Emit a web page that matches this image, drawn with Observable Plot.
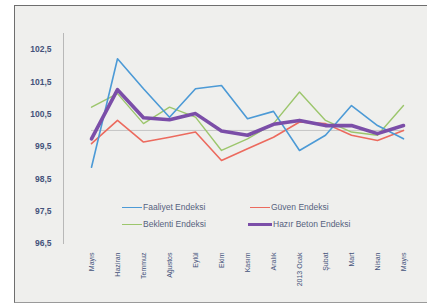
<!DOCTYPE html>
<html>
<head>
<meta charset="utf-8">
<script src="https://cdn.jsdelivr.net/npm/d3@7"></script>
<script src="https://cdn.jsdelivr.net/npm/@observablehq/plot@0.6"></script>
<style>
  html, body { margin: 0; padding: 0; background: #ffffff; }
  #wrap { position: relative; width: 427px; height: 303px; overflow: hidden; }
  #frame { position: absolute; left: 14px; top: 5px; width: 420px; height: 296px;
           border-left: 1.5px solid #6e6e6e; border-top: 1.5px solid #6e6e6e; border-bottom: 1px solid #9a9a9a;
           background: #efefed; }
  #chart { position: absolute; left: 0; top: 0; }
  .leg { position: absolute; font: 8.5px "Liberation Sans", Arial, sans-serif; color: #56627e; white-space: nowrap; line-height: 10px; }
  .leg span.sw { display: inline-block; vertical-align: middle; width: 20px; margin-right: 1px; }
</style>
</head>
<body>
<div id="wrap">
  <div id="frame"></div>
  <div id="chart"></div>
</div>
<script>
const months = ["Mayıs","Haziran","Temmuz","Ağustos","Eylül","Ekim","Kasım","Aralık","2013 Ocak","Şubat","Mart","Nisan","Mayıs"];
const yTicks = [96.5, 97.5, 98.5, 99.5, 100.5, 101.5, 102.5];
const seriesNames = ["Faaliyet Endeksi", "Güven Endeksi", "Beklenti Endeksi", "Hazır Beton Endeksi"];
const faaliyet = [98.86, 102.22, 101.29, 100.41, 101.29, 101.39, 100.36, 100.59, 99.38, 99.85, 100.77, 100.15, 99.74];
const guven    = [99.59, 100.31, 99.64, 99.79, 99.95, 99.07, 99.43, 99.79, 100.26, 100.21, 99.85, 99.69, 100.0];
const beklenti = [100.72, 101.14, 100.21, 100.72, 100.41, 99.38, 99.74, 100.21, 101.19, 100.31, 99.95, 99.85, 100.77];
const hazir    = [99.74, 101.26, 100.39, 100.33, 100.52, 99.98, 99.85, 100.19, 100.31, 100.15, 100.15, 99.9, 100.15];
const colors = ["#4c9ad6", "#ec6a5e", "#9cc66c", "#7b4ea8"];
const widths = [1.6, 1.6, 1.4, 3.6];
const refValue = 100;

const seriesValues = [faaliyet, guven, beklenti, hazir];
const rows = [];
seriesValues.forEach((vals, s) => vals.forEach((v, i) => rows.push({i, s, v})));
const drawOrder = [2, 1, 0, 3];

const plot = Plot.plot({
  width: 427,
  height: 303,
  marginLeft: 63,
  marginTop: 33,
  marginBottom: 60,
  marginRight: 0,
  style: { background: "transparent", fontFamily: "'Liberation Sans', Arial, sans-serif", fontSize: "7px", color: "#3f4c6e" },
  x: { type: "point", domain: d3.range(months.length), range: [76.7, 416.7], label: null },
  y: { domain: [96.5, 103.0], range: [243, 33], label: null },
  marks: [
    Plot.frame({ anchor: "left", stroke: "#b8b8b8" }),
    Plot.ruleY([refValue], { stroke: "#c4c4c4", strokeWidth: 1, x1: 0, x2: months.length - 1 }),
    Plot.axisY({ ticks: yTicks, tickSize: 0, tickPadding: 12, label: null, fontSize: 8.5, tickFormat: d => d.toFixed(1).replace(".", ","), fontWeight: "bold", fill: "#44527a" }),
    Plot.axisX({ ticks: d3.range(months.length), label: null, tickFormat: i => months[i], tickRotate: -90, tickSize: 0, tickPadding: 9, fill: "#44527a" }),
    ...drawOrder.map(s => Plot.line(rows.filter(r => r.s === s), {
      x: "i", y: "v", stroke: colors[s], strokeWidth: widths[s], strokeLinejoin: "round", strokeLinecap: "round"
    }))
  ]
});
document.getElementById("chart").appendChild(plot);

// legend (HTML overlay)
const legendPos = [[122, 202], [250, 202], [122, 219], [248, 219]];
const wrap = document.getElementById("wrap");
seriesNames.forEach((name, s) => {
  const d = document.createElement("div");
  d.className = "leg";
  d.style.left = legendPos[s][0] + "px";
  d.style.top = legendPos[s][1] + "px";
  const sw = document.createElement("span");
  sw.className = "sw";
  sw.style.borderTop = widths[s] + "px solid " + colors[s];
  if (s === 3) sw.style.width = "24px";
  d.appendChild(sw);
  d.appendChild(document.createTextNode(name));
  wrap.appendChild(d);
});
</script>
</body>
</html>
